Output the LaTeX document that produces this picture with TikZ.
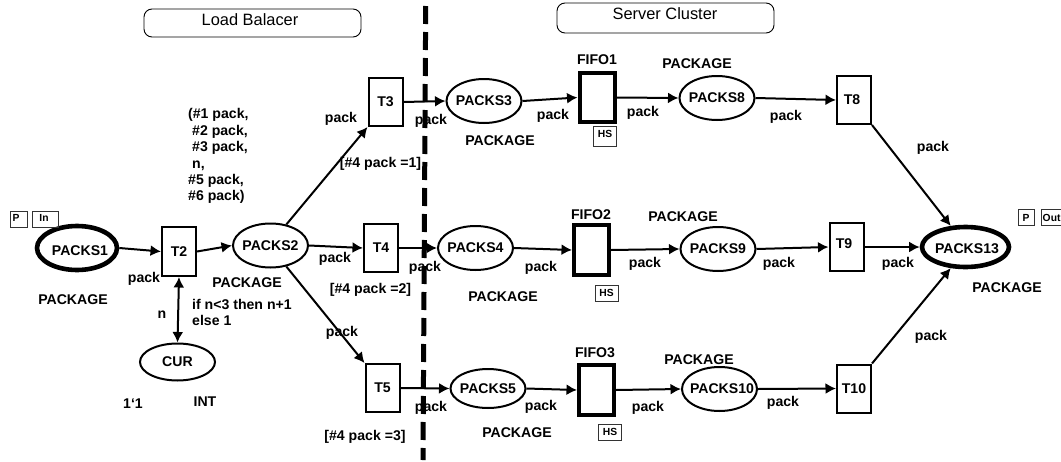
\documentclass[tikz,border=0pt]{standalone}
\usepackage{fontspec}
\setmainfont{Liberation Sans}
\usetikzlibrary{arrows.meta,shapes.geometric}
\tikzset{
  x=1pt,y=-1pt,
  lab/.style={font=\fontsize{14.1}{16.4}\selectfont\bfseries,inner sep=0pt,text=black},
  place/.style={ellipse,draw=black,line width=2pt,lab,inner xsep=-24pt,inner ysep=-6pt,minimum width=#1,minimum height=44pt},
  place/.default=75pt,
  port/.style={ellipse,draw=black,line width=4.6pt,lab,inner xsep=-24pt,inner ysep=-6pt},
  trans/.style={rectangle,draw=black,line width=2pt,inner sep=0pt,lab,minimum width=34pt,minimum height=48pt},
  fifo/.style={rectangle,draw=black,line width=4pt,inner sep=0pt,minimum width=35pt,minimum height=49pt},
  tag/.style={rectangle,draw=black!80,line width=1pt,inner sep=0pt,font=\fontsize{10.3}{12}\selectfont\bfseries,minimum height=16pt},
  region/.style={rectangle,rounded corners=8pt,draw=black,line width=0.9pt,inner sep=0pt},
  regiontext/.style={inner sep=0pt,font=\fontsize{16.4}{18}\selectfont},
  arc/.style={draw=black,line width=2pt,-{Latex[length=10.5pt,width=11pt]}},
  biarc/.style={draw=black,line width=2pt,{Latex[length=10.5pt,width=11pt]}-{Latex[length=10.5pt,width=11pt]}},
  divider/.style={draw=black,line width=5pt,dash pattern=on 18pt off 8pt}
}
\begin{document}
\begin{tikzpicture}
\useasboundingbox (0,0) rectangle (1061,461);
% divider
\coordinate (divtop) at (425.7,6);
\coordinate (divbot) at (423,460);
\draw[divider] (divtop) -- (divbot);
% regions
\node[region,minimum width=217pt,minimum height=28pt] (lbbox) at (252.5,23) {};
\node[regiontext] (lbtext) at (250,20) {Load Balacer};
\node[region,minimum width=217pt,minimum height=30pt] (scbox) at (665.5,18) {};
\node[regiontext] (sctext) at (665,14) {Server Cluster};
% places
\node[port,minimum width=80pt,minimum height=44pt,text height=16pt] (P1) at (77,248) {\hspace*{6pt}PACKS1};
\node[place] (P2) at (270.5,245.5) {PACKS2};
\node[place=75pt,minimum height=37pt] (CUR) at (177.5,362) {CUR};
\node[place,minimum height=44pt] (P3) at (484,101) {PACKS3};
\node[place,minimum height=44pt] (P4) at (475.5,248) {PACKS4};
\node[place,minimum height=39pt] (P5) at (488,388.5) {PACKS5};
\node[place,minimum height=44pt] (P8) at (717,98) {PACKS8};
\node[place,minimum height=44pt] (P9) at (718,249) {PACKS9};
\node[place,minimum height=44pt] (P10) at (719.5,389) {\hspace*{5pt}PACKS10};
\node[port,minimum width=87pt,minimum height=40pt,text height=14pt] (P13) at (965.5,247) {\hspace*{3pt}PACKS13};
% transitions
\node[trans,minimum width=34pt,minimum height=49pt] (T2) at (179,251.5) {T2};
\node[trans] (T3) at (385.5,102) {T3};
\node[trans] (T4) at (381,248) {T4};
\node[trans] (T5) at (382.5,388) {T5};
\node[trans] (T8) at (854,100) {T8\hspace*{4pt}};
\node[trans,text depth=6pt] (T9) at (846.5,247) {T9\hspace*{5pt}};
\node[trans] (T10) at (854,388.5) {T10};
% fifos
\node[fifo] (F1) at (597,97.5) {};
\node[fifo,minimum width=35pt,minimum height=50pt] (F2) at (591.5,250) {};
\node[fifo,minimum width=35pt,minimum height=50pt] (F3) at (596.5,390) {};
\node[lab] (F1t) at (597,60) {FIFO1};
\node[lab] (F2t) at (591,215) {FIFO2};
\node[lab] (F3t) at (595,353) {FIFO3};
% tags
\node[tag,minimum width=23pt,minimum height=20pt] (HS1) at (605,136.5) {};
\node[tag,draw=none,minimum width=0pt,minimum height=0pt] (HS1t) at (605,134) {HS};
\node[tag,minimum width=23pt] (HS2) at (606.5,293) {HS};
\node[tag,minimum width=23pt] (HS3) at (610,432) {HS};
\node[tag,minimum width=17pt] (PA) at (19,219.5) {};
\node[tag,draw=none,minimum height=0pt] (PAt) at (16,218) {P};
\node[tag,minimum width=26pt] (INb) at (45,219.5) {};
\node[tag,draw=none,minimum height=0pt] (INt) at (44,218) {In};
\node[tag,minimum width=16pt] (PB) at (1026,217.5) {P};
\node[tag,minimum width=27pt] (OUT) at (1054.5,217.5) {};
\node[tag,draw=none,minimum height=0pt] (OUTt) at (1051.6,218) {Out};
% arcs
\draw[arc] (P1.east) -- (T2.west);
\draw[arc] (T2.east) -- (P2.west);
\draw[biarc] (T2.south) -- (CUR.north);
\draw[arc] (P2.53) -- (T3.south west);
\draw[arc] (P2.east) -- (T4.west);
\draw[arc] (P2.-53) -- (T5.north west);
\draw[arc] (T3.east) -- (P3.west);
\draw[arc] (T4.east) -- (P4.west);
\draw[arc] (T5.east) -- (P5.west);
\draw[arc] (P3.east) -- (F1.west);
\draw[arc] (P4.east) -- (F2.west);
\draw[arc] (P5.east) -- (F3.west);
\draw[arc] (F1.east) -- (P8.west);
\draw[arc] (F2.east) -- (P9.west);
\draw[arc] (F3.east) -- (P10.west);
\draw[arc] (P8.east) -- (T8.west);
\draw[arc] (P9.east) -- (T9.west);
\draw[arc] (P10.east) -- (T10.west);
\draw[arc] (T8.south east) -- (P13.125);
\draw[arc] (T9.east) -- (P13.west);
\draw[arc] (T10.north east) -- (P13.235);
% type labels
\node[lab] (ty1) at (73,300) {PACKAGE};
\node[lab] (ty2) at (247,283) {PACKAGE};
\node[lab] (ty3) at (500,141) {PACKAGE};
\node[lab] (ty4) at (503,297) {PACKAGE};
\node[lab] (ty5) at (517,433) {PACKAGE};
\node[lab] (ty8) at (697,64) {PACKAGE};
\node[lab] (ty9) at (683,217) {PACKAGE};
\node[lab] (ty10) at (699,360) {PACKAGE};
\node[lab] (ty13) at (1007,288) {PACKAGE};
\node[lab] (tyint) at (205,402) {INT};
\node[lab] (init) at (133,404) {1‘1};
% arc labels
\node[lab,anchor=north west,align=left] (tuple) at (188,108.5) {(\#1 pack,\\\hspace*{4pt}\#2 pack,\\\hspace*{4pt}\#3 pack,\\\hspace*{4pt}n,\\\#5 pack,\\\#6 pack)};
\node[lab,anchor=west,align=left] (cond) at (192,312.5) {if n<3 then n+1\\else 1};
\node[lab] (an) at (162,315) {n};
\node[lab] (a1) at (144,279) {pack};
\node[lab] (a2) at (341,119) {pack};
\node[lab] (a3) at (335,259) {pack};
\node[lab] (a4) at (342,333) {pack};
\node[lab] (a5) at (431,121) {pack};
\node[lab] (a6) at (425,268) {pack};
\node[lab] (a7) at (431,408) {pack};
\node[lab] (a8) at (553,116) {pack};
\node[lab] (a9) at (541,268) {pack};
\node[lab] (a10) at (541,407) {pack};
\node[lab] (a11) at (643,113) {pack};
\node[lab] (a12) at (645,264) {pack};
\node[lab] (a13) at (648,408) {pack};
\node[lab] (a14) at (786,117) {pack};
\node[lab] (a15) at (779,264) {pack};
\node[lab] (a16) at (783,403) {pack};
\node[lab] (a17) at (933,148) {pack};
\node[lab] (a18) at (898,264) {pack};
\node[lab] (a19) at (931,337) {pack};
% guards
\node[lab] (g1) at (380.5,164) {[\#4 pack =1]};
\node[lab] (g2) at (370.5,290) {[\#4 pack =2]};
\node[lab] (g3) at (365,437) {[\#4 pack =3]};
\end{tikzpicture}
\end{document}
